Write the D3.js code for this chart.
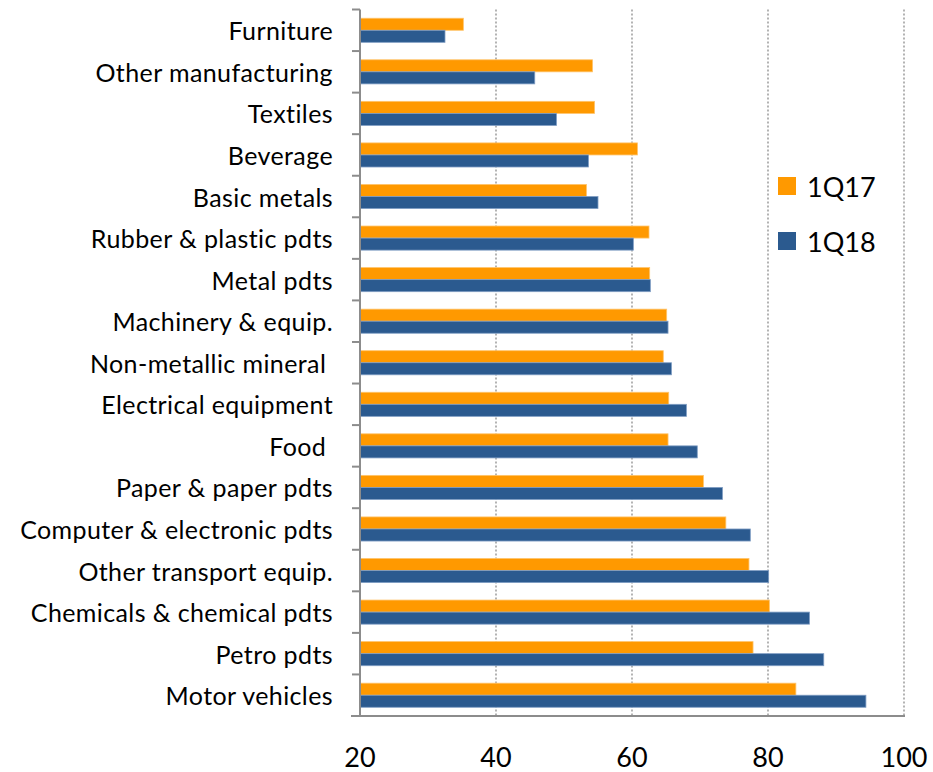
<!DOCTYPE html>
<html>
<head>
<meta charset="utf-8">
<script src="https://cdn.jsdelivr.net/npm/d3@7"></script>
<style>
  html, body { margin: 0; padding: 0; background: #fff; }
  svg { display: block; font-family: Lato, "Open Sans", sans-serif; }
</style>
</head>
<body>
<svg id="chart" width="933" height="772"></svg>
<script>
// Industries, top to bottom
const categories = [
  "Furniture", "Other manufacturing", "Textiles", "Beverage", "Basic metals",
  "Rubber & plastic pdts", "Metal pdts", "Machinery & equip.", "Non-metallic mineral ",
  "Electrical equipment", "Food ", "Paper & paper pdts", "Computer & electronic pdts",
  "Other transport equip.", "Chemicals & chemical pdts", "Petro pdts", "Motor vehicles"
];
const values1Q17 = [35.2, 54.2, 54.5, 60.8, 53.3, 62.5, 62.6, 65.1, 64.6, 65.4, 65.3, 70.5, 73.8, 77.2, 80.2, 77.8, 84.1];
const values1Q18 = [32.5, 45.7, 48.9, 53.6, 55.0, 60.2, 62.7, 65.3, 65.8, 68.0, 69.6, 73.3, 77.4, 80.1, 86.1, 88.2, 94.4];
const seriesNames = ["1Q17", "1Q18"];
const xTicks = [20, 40, 60, 80, 100];

const colors = { "1Q17": "#FF9900", "1Q18": "#2B5A8F" };
const strokes = { "1Q17": "#FFC46B", "1Q18": "#7F9DC4" };

const svg = d3.select("#chart");
const plotLeft = 360, plotRight = 904, plotTop = 9.5, plotBottom = 716;

const x = d3.scaleLinear().domain([20, 100]).range([plotLeft, plotRight]);
const y = d3.scaleBand().domain(categories).range([plotTop, plotBottom]).paddingInner(0.42).paddingOuter(0.21);
const ySub = d3.scaleBand().domain(seriesNames).range([0, y.bandwidth()]);

// Dotted vertical gridlines
svg.append("g").selectAll("line")
  .data(xTicks.filter(t => t > 20))
  .join("line")
  .attr("x1", d => x(d)).attr("x2", d => x(d))
  .attr("y1", plotTop).attr("y2", plotBottom)
  .attr("stroke", "#8c8c8c").attr("stroke-width", 1.3)
  .attr("stroke-dasharray", "2,2");

// Bars
const rows = categories.map((c, i) => ({ c, v: { "1Q17": values1Q17[i], "1Q18": values1Q18[i] } }));
const g = svg.append("g").selectAll("g")
  .data(rows).join("g")
  .attr("transform", d => `translate(0,${y(d.c)})`);
g.selectAll("rect")
  .data(d => seriesNames.map(s => ({ s, v: d.v[s] })))
  .join("rect")
  .attr("x", x(20))
  .attr("y", d => ySub(d.s))
  .attr("width", d => x(d.v) - x(20))
  .attr("height", ySub.bandwidth())
  .attr("fill", d => colors[d.s])
  .attr("stroke", d => strokes[d.s])
  .attr("stroke-width", 0.8);

// Category axis with outward ticks at band boundaries
const yAxisG = svg.append("g");
yAxisG.append("line")
  .attr("x1", plotLeft).attr("x2", plotLeft).attr("y1", plotTop).attr("y2", plotBottom)
  .attr("stroke", "#8c8c8c").attr("stroke-width", 2);
yAxisG.selectAll("line.tick")
  .data(d3.range(categories.length + 1))
  .join("line").attr("class", "tick")
  .attr("x1", plotLeft - 8).attr("x2", plotLeft)
  .attr("y1", i => plotTop + i * y.step()).attr("y2", i => plotTop + i * y.step())
  .attr("stroke", "#8c8c8c").attr("stroke-width", 2);
yAxisG.selectAll("text")
  .data(categories).join("text")
  .attr("x", 333)
  .attr("y", d => y(d) + y.bandwidth() / 2)
  .attr("text-anchor", "end")
  .attr("dominant-baseline", "central")
  .attr("font-size", 25)
  .attr("letter-spacing", 0.4)
  .attr("fill", "#000")
  .style("white-space", "pre")
  .text(d => d);

// Value axis
svg.append("line")
  .attr("x1", 351).attr("x2", 905).attr("y1", plotBottom).attr("y2", plotBottom)
  .attr("stroke", "#8c8c8c").attr("stroke-width", 2);
svg.append("g").selectAll("text")
  .data(xTicks).join("text")
  .attr("x", d => x(d))
  .attr("y", 756)
  .attr("text-anchor", "middle")
  .attr("dominant-baseline", "central")
  .attr("font-size", 27)
  .attr("fill", "#000")
  .text(d => d);

// Legend
const legend = svg.append("g").selectAll("g")
  .data(seriesNames).join("g")
  .attr("transform", (d, i) => `translate(778,${177 + i * 55})`);
legend.append("rect")
  .attr("width", 18).attr("height", 18)
  .attr("fill", d => colors[d]);
legend.append("text")
  .attr("x", 29).attr("y", 9)
  .attr("dominant-baseline", "central")
  .attr("font-size", 27)
  .attr("fill", "#000")
  .text(d => d);
</script>
</body>
</html>
